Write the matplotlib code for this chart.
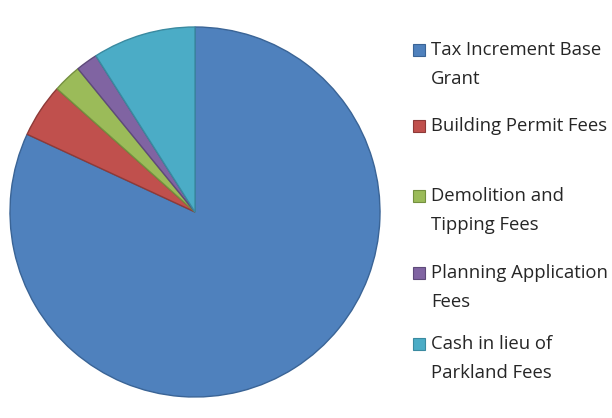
import matplotlib
matplotlib.use('Agg')
import matplotlib.pyplot as plt
from matplotlib.patches import Rectangle

# Slice data (percent shares), clockwise from 12 o'clock.
labels = ['Tax Increment Base\nGrant', 'Building Permit Fees',
          'Demolition and\nTipping Fees', 'Planning Application\nFees',
          'Cash in lieu of\nParkland Fees']
shares = [81.9, 4.7, 2.5, 1.9, 9.0]
colors = ['#4F81BD', '#C0504D', '#9BBB59', '#8064A2', '#4BACC6']
edges = ['#3A6496', '#8E3A38', '#74903F', '#5E4A7A', '#3A8AA0']

fig = plt.figure(figsize=(6.12, 4.18), dpi=100)
W, H = 612, 418

# Pie: centre (195, 212) px, radius 185 px.
cx, cy, r = 195, 212, 185
ax = fig.add_axes([(cx - r) / W, (H - cy - r) / H, 2 * r / W, 2 * r / H])
wedges, _ = ax.pie(shares, colors=colors, startangle=90, counterclock=False,
                   wedgeprops=dict(linewidth=1.0))
for w, e in zip(wedges, edges):
    w.set_edgecolor(e)
ax.set_xlim(-1.0, 1.0)
ax.set_ylim(-1.0, 1.0)
ax.set_aspect('auto')
ax.axis('off')

# Legend, drawn by hand to match the layout.
row_y = [50, 126, 196, 273, 344]
for lab, c, e, y in zip(labels, colors, edges, row_y):
    fig.patches.append(Rectangle((413 / W, (H - y - 6) / H), 12 / W, 12 / H,
                                 transform=fig.transFigure, facecolor=c,
                                 edgecolor=e, linewidth=0.8))
    for i, line in enumerate(lab.split('\n')):
        fig.text(431 / W, (H - y - i * 29) / H, line, fontsize=13.3,
                 family='Open Sans', color='#262626', va='center')

fig.savefig('out.png', dpi=100)
